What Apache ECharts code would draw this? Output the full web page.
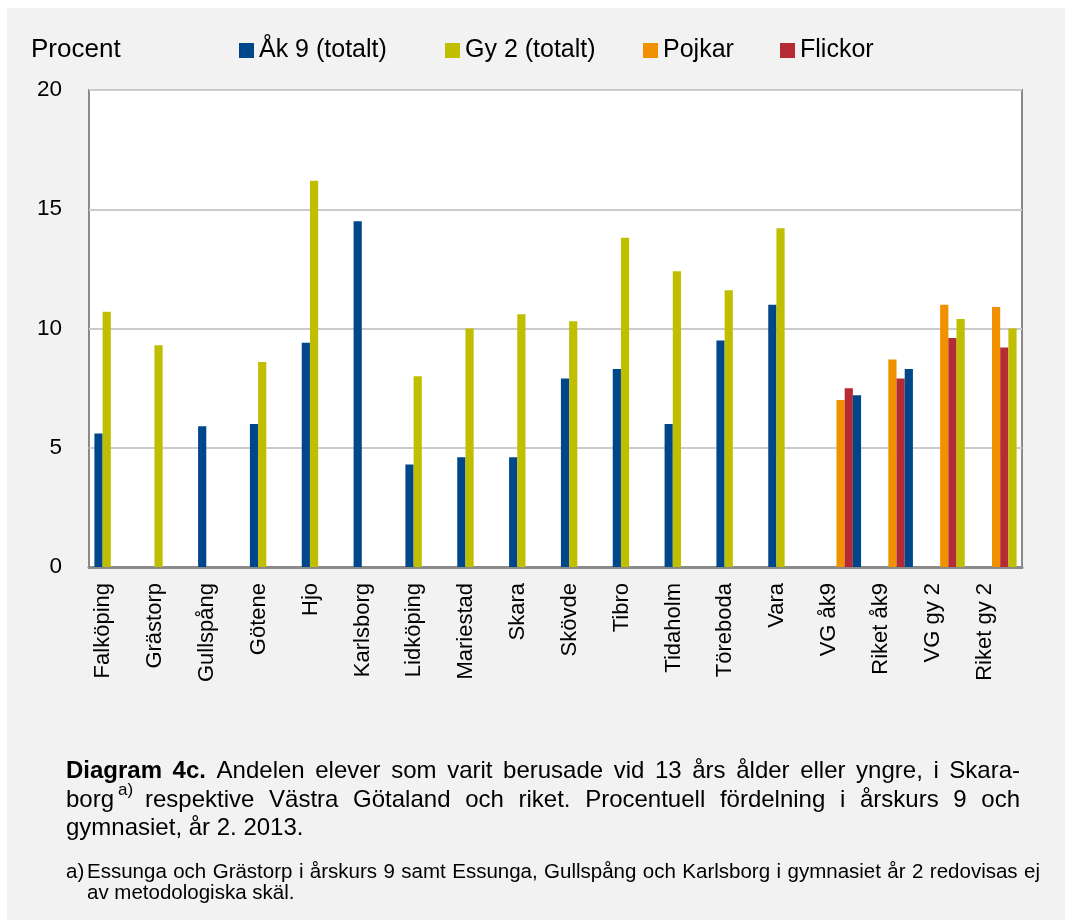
<!DOCTYPE html>
<html>
<head>
<meta charset="utf-8">
<script src="https://cdn.jsdelivr.net/npm/echarts@6/dist/echarts.min.js"></script>
<style>
  html, body { margin: 0; padding: 0; background: #ffffff; }
  #main { position: absolute; left: 7px; top: 8px; width: 1058px; height: 912px; background: #f2f2f2; }
</style>
</head>
<body>
<div id="main"></div>
<script>
// kategorier (kommuner + jämförelser)
const categories = ['Falköping', 'Grästorp', 'Gullspång', 'Götene', 'Hjo', 'Karlsborg',
  'Lidköping', 'Mariestad', 'Skara', 'Skövde', 'Tibro', 'Tidaholm', 'Töreboda', 'Vara',
  'VG åk9', 'Riket åk9', 'VG gy 2', 'Riket gy 2'];

// andel i procent
const ak9 = [5.6, null, 5.9, 6.0, 9.4, 14.5, 4.3, 4.6, 4.6, 7.9, 8.3, 6.0, 9.5, 11.0,
  null, null, null, null];
const gy2 = [10.7, 9.3, null, 8.6, 16.2, null, 8.0, 10.0, 10.6, 10.3, 13.8, 12.4, 11.6, 14.2,
  null, null, null, null];
const pojkar = [null, null, null, null, null, null, null, null, null, null, null, null, null, null,
  7.0, 8.7, 11.0, 10.9];
const flickor = [null, null, null, null, null, null, null, null, null, null, null, null, null, null,
  7.5, 7.9, 9.6, 9.2];
// totalt för VG / riket (åk9 blå, gy 2 gul)
const totalt = [null, null, null, null, null, null, null, null, null, null, null, null, null, null,
  7.2, 8.3, 10.4, 10.0];

const yTicks = [0, 5, 10, 15, 20];

const BLUE = '#00468b', GREEN = '#c0be00', ORANGE = '#f29100', RED = '#b52b34';
const FONT = "'Liberation Sans', Arial, sans-serif";

// mät ord för att fördela dem (marginaljusterad text)
const ctx = document.createElement('canvas').getContext('2d');
function justify(words, y, x0, x1, size, boldCount) {
  const b = boldCount || 0;
  const w = words.map((t, i) => {
    ctx.font = (i < b ? 'bold ' : '') + size + 'px ' + FONT;
    return ctx.measureText(t).width;
  });
  const sum = w.reduce((a, c) => a + c, 0);
  const gap = (x1 - x0 - sum) / (words.length - 1);
  let x = x0;
  return words.map((t, i) => {
    const el = {
      type: 'text', x: x, y: y,
      style: { text: t, fontSize: size, fontFamily: FONT, fontWeight: i < b ? 'bold' : 'normal',
        fill: '#000', verticalAlign: 'middle' }
    };
    x += w[i] + gap;
    return el;
  });
}
function plain(t, x, y, size) {
  return { type: 'text', x: x, y: y,
    style: { text: t, fontSize: size, fontFamily: FONT, fill: '#000', verticalAlign: 'middle' } };
}

const line1 = 'Diagram 4c. Andelen elever som varit berusade vid 13 års ålder eller yngre, i Skara-'.split(' ');
const line2 = 'respektive Västra Götaland och riket. Procentuell fördelning i årskurs 9 och'.split(' ');
const note1 = 'Essunga och Grästorp i årskurs 9 samt Essunga, Gullspång och Karlsborg i gymnasiet år 2 redovisas ej'.split(' ');

const chart = echarts.init(document.getElementById('main'));

function legendAt(name, left) {
  return {
    data: [name], left: left, top: 30, padding: 0,
    itemWidth: 15, itemHeight: 15, icon: 'rect',
    textStyle: { fontSize: 25, fontFamily: FONT, color: '#000' }
  };
}

chart.setOption({
  backgroundColor: 'transparent',
  animation: false,
  legend: [
    legendAt('Åk 9 (totalt)', 232),
    legendAt('Gy 2 (totalt)', 438),
    legendAt('Pojkar', 636),
    legendAt('Flickor', 773)
  ],
  grid: {
    left: 82, top: 82, width: 933, height: 477,
    show: true, backgroundColor: '#ffffff',
    borderColor: '#8a8a8a', borderWidth: 2
  },
  xAxis: {
    type: 'category',
    data: categories,
    axisLine: { lineStyle: { color: '#8a8a8a', width: 3 } },
    axisTick: { show: false },
    axisLabel: {
      rotate: 90, interval: 0, margin: 16,
      fontSize: 22, fontFamily: FONT, color: '#000', lineHeight: 23,
      formatter: v => v + '\n '
    }
  },
  yAxis: {
    type: 'value',
    min: yTicks[0], max: yTicks[yTicks.length - 1], interval: 5,
    axisLine: { show: false },
    axisTick: { show: false },
    splitLine: { lineStyle: { color: '#cbcbcb', width: 2 } },
    axisLabel: { fontSize: 22.5, fontFamily: FONT, color: '#000', margin: 27 }
  },
  series: [
    { name: 'Åk 9 (totalt)', type: 'bar', data: ak9, barWidth: 8.2, barGap: '0%', itemStyle: { color: BLUE } },
    { name: 'Gy 2 (totalt)', type: 'bar', data: gy2, barWidth: 8.2, barGap: '0%', itemStyle: { color: GREEN } },
    { name: 'Pojkar', type: 'bar', data: pojkar, barWidth: 8.2, barGap: '0%', itemStyle: { color: ORANGE } },
    { name: 'Flickor', type: 'bar', data: flickor, barWidth: 8.2, barGap: '0%', itemStyle: { color: RED } },
    {
      name: 'Totalt', type: 'bar', barWidth: 8.2, barGap: '0%',
      data: totalt.map((v, i) => ({
        value: v,
        itemStyle: { color: categories[i].indexOf('gy') >= 0 ? GREEN : BLUE }
      }))
    }
  ],
  graphic: [
    { type: 'text', left: 24, top: 29, style: { text: 'Procent', fontSize: 26, fontFamily: FONT, fill: '#000' } }
  ].concat(
    justify(line1, 763, 59, 1013, 24, 2),
    [plain('borg', 59, 792, 24), plain('a)', 111, 782, 17)],
    justify(line2, 792, 138, 1013, 24),
    [plain('gymnasiet, år 2. 2013.', 59, 820, 24)],
    [plain('a)', 59, 864, 20.5)],
    justify(note1, 864, 80, 1033, 20.5),
    [plain('av metodologiska skäl.', 80, 885, 20.5)]
  )
});
</script>
</body>
</html>
